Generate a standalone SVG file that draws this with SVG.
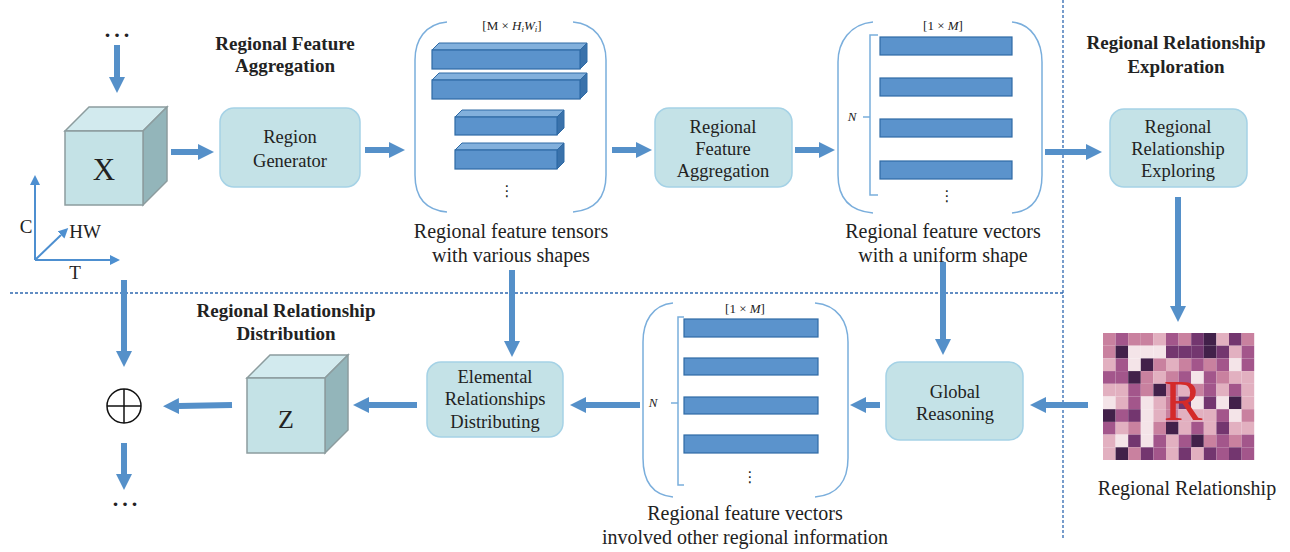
<svg xmlns="http://www.w3.org/2000/svg" width="1290" height="552" viewBox="0 0 1290 552">
<style>
text{font-family:"Liberation Serif","Times New Roman",serif;fill:#222}
.hd{font-size:19px;font-weight:bold;text-anchor:middle}
.bx{font-size:18.5px;text-anchor:middle}
.cap{font-size:20px;text-anchor:middle}
.sm{font-size:13px;text-anchor:middle}
.box{fill:#c4e2e7;stroke:#a5d2e6;stroke-width:1.5}
.ar{stroke:#5590c9;stroke-width:6;fill:none;marker-end:url(#ah)}
.ax{stroke:#4d8fd0;stroke-width:2;fill:none;marker-end:url(#ah2)}
.br{stroke:#7aaedc;stroke-width:1.5;fill:none}
.bar{fill:#5b93cc;stroke:#2f6aa5;stroke-width:1.2}
.btop{fill:#82b0dc;stroke:#2f6aa5;stroke-width:1}
.bside{fill:#3a72ab;stroke:#2f6aa5;stroke-width:1}
.cf{fill:#c4e2e6;stroke:#8c9c9e;stroke-width:1.5}
.ct{fill:#d2eaee;stroke:#8c9c9e;stroke-width:1.5}
.cs{fill:#93b5ba;stroke:#8c9c9e;stroke-width:1.5}
.dash{stroke:#2f68b0;stroke-width:1.3;stroke-dasharray:3 2;fill:none}
.c0{fill:#f4e4e8}.c1{fill:#e2b0c0}.c2{fill:#c9819f}.c3{fill:#a3568b}.c4{fill:#73366f}.c5{fill:#42214a}
</style>
<defs>
<marker id="ah" markerUnits="userSpaceOnUse" markerWidth="16" markerHeight="16" viewBox="0 0 16 16" refX="0" refY="8" orient="auto"><path d="M0,0 L16,8 L0,16 z" fill="#5590c9"/></marker>
<marker id="ah2" markerUnits="userSpaceOnUse" markerWidth="10" markerHeight="10" viewBox="0 0 10 10" refX="0" refY="5" orient="auto"><path d="M0,0 L10,5 L0,10 z" fill="#4d8fd0"/></marker>
</defs>

<g id="dividers">
<path class="dash" d="M10,293 L1063,293"/>
<path class="dash" d="M1063,0 L1063,540"/>
</g>

<g id="headers">
<text class="hd" x="285" y="50">Regional Feature</text>
<text class="hd" x="285" y="72">Aggregation</text>
<text class="hd" x="1176" y="49">Regional Relationship</text>
<text class="hd" x="1176" y="73">Exploration</text>
<text class="hd" x="286" y="317">Regional Relationship</text>
<text class="hd" x="286" y="340">Distribution</text>
</g>

<g id="dots-top"><text x="119" y="37" style="font-size:22px;font-weight:bold;text-anchor:middle;letter-spacing:4px">...</text></g>

<g id="cube-x">
<polygon class="ct" points="65,131 89,107 167,107 143,131"/>
<polygon class="cs" points="143,131 167,107 167,181 143,205"/>
<rect class="cf" x="65" y="131" width="78" height="74"/>
<text x="104" y="180" style="font-size:31px;text-anchor:middle">X</text>
</g>

<g id="axes">
<path class="ax" d="M35,260 L35,185"/>
<path class="ax" d="M35,260 L110,260"/>
<path class="ax" d="M35,260 L61,235"/>
<text x="26" y="233" style="font-size:19px;text-anchor:middle">C</text>
<text x="85" y="238" style="font-size:19px;text-anchor:middle">HW</text>
<text x="75" y="279" style="font-size:19px;text-anchor:middle">T</text>
</g>

<g id="region-generator">
<rect class="box" x="220" y="108" width="140" height="79" rx="14"/>
<text class="bx" x="290" y="143">Region</text>
<text class="bx" x="290" y="167">Generator</text>
</g>

<g id="tensors">
<path class="br" d="M447,22 C425,24 415,40 415,60 L415,175 C415,197 425,210 447,212"/>
<path class="br" d="M573,22 C595,24 606,40 606,60 L606,175 C606,197 595,210 573,212"/>
<text class="sm" x="512" y="30">[M × <tspan font-style="italic">H</tspan><tspan font-style="italic" font-size="9" dy="2">i</tspan><tspan font-style="italic" dy="-2">W</tspan><tspan font-style="italic" font-size="9" dy="2">i</tspan><tspan dy="-2">]</tspan></text>
<polygon class="btop" points="432,50 439,43 587,43 580,50"/>
<polygon class="bside" points="580,50 587,43 587,62 580,69"/>
<rect class="bar" x="432" y="50" width="148" height="19"/>
<polygon class="btop" points="432,80 439,73 587,73 580,80"/>
<polygon class="bside" points="580,80 587,73 587,92 580,99"/>
<rect class="bar" x="432" y="80" width="148" height="19"/>
<polygon class="btop" points="455,117 462,110 564,110 557,117"/>
<polygon class="bside" points="557,117 564,110 564,128 557,135"/>
<rect class="bar" x="455" y="117" width="102" height="18"/>
<polygon class="btop" points="455,150 462,143 564,143 557,150"/>
<polygon class="bside" points="557,150 564,143 564,162 557,169"/>
<rect class="bar" x="455" y="150" width="102" height="19"/>
<text x="507" y="196" style="font-family:'DejaVu Sans',sans-serif;font-size:15px;text-anchor:middle">⋮</text>
<text class="cap" x="511" y="238">Regional feature tensors</text>
<text class="cap" x="511" y="262">with various shapes</text>
</g>

<g id="feature-aggregation">
<rect class="box" x="655" y="108" width="137" height="79" rx="14"/>
<text class="bx" x="723" y="133">Regional</text>
<text class="bx" x="723" y="155">Feature</text>
<text class="bx" x="723" y="177">Aggregation</text>
</g>

<g id="vectors-top">
<path class="br" d="M873,22 C850,24 838,42 838,62 L838,175 C838,198 850,211 873,213"/>
<path class="br" d="M1012,22 C1032,24 1042,42 1042,62 L1042,175 C1042,198 1032,211 1012,213"/>
<path class="br" d="M878,35 L870,35 L870,195 L878,195 M863,117 L870,117"/>
<text class="sm" x="943" y="30">[1 × <tspan font-style="italic">M</tspan>]</text>
<text class="sm" x="852" y="121" font-style="italic">N</text>
<rect class="bar" x="880" y="37" width="132" height="18"/>
<rect class="bar" x="880" y="78" width="132" height="18"/>
<rect class="bar" x="880" y="119" width="132" height="18"/>
<rect class="bar" x="880" y="161" width="132" height="18"/>
<text x="947" y="201" style="font-family:'DejaVu Sans',sans-serif;font-size:15px;text-anchor:middle">⋮</text>
<text class="cap" x="943" y="238">Regional feature vectors</text>
<text class="cap" x="943" y="262">with a uniform shape</text>
</g>

<g id="relationship-exploring">
<rect class="box" x="1110" y="109" width="137" height="78" rx="14"/>
<text class="bx" x="1178" y="133">Regional</text>
<text class="bx" x="1178" y="155">Relationship</text>
<text class="bx" x="1178" y="177">Exploring</text>
</g>

<g id="relationship-matrix">
<g transform="translate(1103,333)">
<rect class="c2" x="0" y="0" width="12.6" height="12.7"/><rect class="c3" x="12.6" y="0" width="12.6" height="12.7"/><rect class="c2" x="25.2" y="0" width="12.6" height="12.7"/><rect class="c2" x="37.8" y="0" width="12.6" height="12.7"/><rect class="c1" x="50.4" y="0" width="12.6" height="12.7"/><rect class="c3" x="63" y="0" width="12.6" height="12.7"/><rect class="c2" x="75.6" y="0" width="12.6" height="12.7"/><rect class="c4" x="88.2" y="0" width="12.6" height="12.7"/><rect class="c5" x="100.8" y="0" width="12.6" height="12.7"/><rect class="c1" x="113.4" y="0" width="12.6" height="12.7"/><rect class="c4" x="126" y="0" width="12.6" height="12.7"/><rect class="c2" x="138.6" y="0" width="12.6" height="12.7"/>
<rect class="c2" x="0" y="12.7" width="12.6" height="12.7"/><rect class="c5" x="12.6" y="12.7" width="12.6" height="12.7"/><rect class="c0" x="25.2" y="12.7" width="12.6" height="12.7"/><rect class="c0" x="37.8" y="12.7" width="12.6" height="12.7"/><rect class="c0" x="50.4" y="12.7" width="12.6" height="12.7"/><rect class="c4" x="63" y="12.7" width="12.6" height="12.7"/><rect class="c4" x="75.6" y="12.7" width="12.6" height="12.7"/><rect class="c4" x="88.2" y="12.7" width="12.6" height="12.7"/><rect class="c5" x="100.8" y="12.7" width="12.6" height="12.7"/><rect class="c4" x="113.4" y="12.7" width="12.6" height="12.7"/><rect class="c1" x="126" y="12.7" width="12.6" height="12.7"/><rect class="c3" x="138.6" y="12.7" width="12.6" height="12.7"/>
<rect class="c1" x="0" y="25.4" width="12.6" height="12.7"/><rect class="c3" x="12.6" y="25.4" width="12.6" height="12.7"/><rect class="c0" x="25.2" y="25.4" width="12.6" height="12.7"/><rect class="c5" x="37.8" y="25.4" width="12.6" height="12.7"/><rect class="c2" x="50.4" y="25.4" width="12.6" height="12.7"/><rect class="c1" x="63" y="25.4" width="12.6" height="12.7"/><rect class="c2" x="75.6" y="25.4" width="12.6" height="12.7"/><rect class="c3" x="88.2" y="25.4" width="12.6" height="12.7"/><rect class="c2" x="100.8" y="25.4" width="12.6" height="12.7"/><rect class="c3" x="113.4" y="25.4" width="12.6" height="12.7"/><rect class="c0" x="126" y="25.4" width="12.6" height="12.7"/><rect class="c3" x="138.6" y="25.4" width="12.6" height="12.7"/>
<rect class="c3" x="0" y="38.1" width="12.6" height="12.7"/><rect class="c3" x="12.6" y="38.1" width="12.6" height="12.7"/><rect class="c5" x="25.2" y="38.1" width="12.6" height="12.7"/><rect class="c2" x="37.8" y="38.1" width="12.6" height="12.7"/><rect class="c1" x="50.4" y="38.1" width="12.6" height="12.7"/><rect class="c2" x="63" y="38.1" width="12.6" height="12.7"/><rect class="c3" x="75.6" y="38.1" width="12.6" height="12.7"/><rect class="c0" x="88.2" y="38.1" width="12.6" height="12.7"/><rect class="c3" x="100.8" y="38.1" width="12.6" height="12.7"/><rect class="c2" x="113.4" y="38.1" width="12.6" height="12.7"/><rect class="c1" x="126" y="38.1" width="12.6" height="12.7"/><rect class="c1" x="138.6" y="38.1" width="12.6" height="12.7"/>
<rect class="c1" x="0" y="50.8" width="12.6" height="12.7"/><rect class="c1" x="12.6" y="50.8" width="12.6" height="12.7"/><rect class="c3" x="25.2" y="50.8" width="12.6" height="12.7"/><rect class="c2" x="37.8" y="50.8" width="12.6" height="12.7"/><rect class="c5" x="50.4" y="50.8" width="12.6" height="12.7"/><rect class="c2" x="63" y="50.8" width="12.6" height="12.7"/><rect class="c1" x="75.6" y="50.8" width="12.6" height="12.7"/><rect class="c2" x="88.2" y="50.8" width="12.6" height="12.7"/><rect class="c3" x="100.8" y="50.8" width="12.6" height="12.7"/><rect class="c1" x="113.4" y="50.8" width="12.6" height="12.7"/><rect class="c3" x="126" y="50.8" width="12.6" height="12.7"/><rect class="c1" x="138.6" y="50.8" width="12.6" height="12.7"/>
<rect class="c0" x="0" y="63.5" width="12.6" height="12.7"/><rect class="c1" x="12.6" y="63.5" width="12.6" height="12.7"/><rect class="c3" x="25.2" y="63.5" width="12.6" height="12.7"/><rect class="c0" x="37.8" y="63.5" width="12.6" height="12.7"/><rect class="c1" x="50.4" y="63.5" width="12.6" height="12.7"/><rect class="c2" x="63" y="63.5" width="12.6" height="12.7"/><rect class="c4" x="75.6" y="63.5" width="12.6" height="12.7"/><rect class="c0" x="88.2" y="63.5" width="12.6" height="12.7"/><rect class="c4" x="100.8" y="63.5" width="12.6" height="12.7"/><rect class="c0" x="113.4" y="63.5" width="12.6" height="12.7"/><rect class="c5" x="126" y="63.5" width="12.6" height="12.7"/><rect class="c1" x="138.6" y="63.5" width="12.6" height="12.7"/>
<rect class="c5" x="0" y="76.2" width="12.6" height="12.7"/><rect class="c3" x="12.6" y="76.2" width="12.6" height="12.7"/><rect class="c4" x="25.2" y="76.2" width="12.6" height="12.7"/><rect class="c0" x="37.8" y="76.2" width="12.6" height="12.7"/><rect class="c1" x="50.4" y="76.2" width="12.6" height="12.7"/><rect class="c2" x="63" y="76.2" width="12.6" height="12.7"/><rect class="c1" x="75.6" y="76.2" width="12.6" height="12.7"/><rect class="c1" x="88.2" y="76.2" width="12.6" height="12.7"/><rect class="c1" x="100.8" y="76.2" width="12.6" height="12.7"/><rect class="c3" x="113.4" y="76.2" width="12.6" height="12.7"/><rect class="c0" x="126" y="76.2" width="12.6" height="12.7"/><rect class="c2" x="138.6" y="76.2" width="12.6" height="12.7"/>
<rect class="c3" x="0" y="88.9" width="12.6" height="12.7"/><rect class="c1" x="12.6" y="88.9" width="12.6" height="12.7"/><rect class="c2" x="25.2" y="88.9" width="12.6" height="12.7"/><rect class="c0" x="37.8" y="88.9" width="12.6" height="12.7"/><rect class="c2" x="50.4" y="88.9" width="12.6" height="12.7"/><rect class="c5" x="63" y="88.9" width="12.6" height="12.7"/><rect class="c1" x="75.6" y="88.9" width="12.6" height="12.7"/><rect class="c3" x="88.2" y="88.9" width="12.6" height="12.7"/><rect class="c1" x="100.8" y="88.9" width="12.6" height="12.7"/><rect class="c4" x="113.4" y="88.9" width="12.6" height="12.7"/><rect class="c1" x="126" y="88.9" width="12.6" height="12.7"/><rect class="c1" x="138.6" y="88.9" width="12.6" height="12.7"/>
<rect class="c1" x="0" y="101.6" width="12.6" height="12.7"/><rect class="c0" x="12.6" y="101.6" width="12.6" height="12.7"/><rect class="c4" x="25.2" y="101.6" width="12.6" height="12.7"/><rect class="c0" x="37.8" y="101.6" width="12.6" height="12.7"/><rect class="c3" x="50.4" y="101.6" width="12.6" height="12.7"/><rect class="c1" x="63" y="101.6" width="12.6" height="12.7"/><rect class="c3" x="75.6" y="101.6" width="12.6" height="12.7"/><rect class="c5" x="88.2" y="101.6" width="12.6" height="12.7"/><rect class="c2" x="100.8" y="101.6" width="12.6" height="12.7"/><rect class="c3" x="113.4" y="101.6" width="12.6" height="12.7"/><rect class="c2" x="126" y="101.6" width="12.6" height="12.7"/><rect class="c3" x="138.6" y="101.6" width="12.6" height="12.7"/>
<rect class="c1" x="0" y="114.3" width="12.6" height="12.7"/><rect class="c5" x="12.6" y="114.3" width="12.6" height="12.7"/><rect class="c2" x="25.2" y="114.3" width="12.6" height="12.7"/><rect class="c4" x="37.8" y="114.3" width="12.6" height="12.7"/><rect class="c3" x="50.4" y="114.3" width="12.6" height="12.7"/><rect class="c1" x="63" y="114.3" width="12.6" height="12.7"/><rect class="c4" x="75.6" y="114.3" width="12.6" height="12.7"/><rect class="c1" x="88.2" y="114.3" width="12.6" height="12.7"/><rect class="c4" x="100.8" y="114.3" width="12.6" height="12.7"/><rect class="c3" x="113.4" y="114.3" width="12.6" height="12.7"/><rect class="c4" x="126" y="114.3" width="12.6" height="12.7"/><rect class="c3" x="138.6" y="114.3" width="12.6" height="12.7"/>
</g>
<text x="1183" y="420" style="font-size:58px;text-anchor:middle;fill:#d42a2a">R</text>
<text class="cap" x="1187" y="495">Regional Relationship</text>
</g>

<g id="global-reasoning">
<rect class="box" x="886" y="362" width="137" height="78" rx="14"/>
<text class="bx" x="955" y="398">Global</text>
<text class="bx" x="955" y="420">Reasoning</text>
</g>

<g id="vectors-bottom">
<path class="br" d="M673,303 C652,305 643,322 643,342 L643,458 C643,480 652,495 673,497"/>
<path class="br" d="M815,303 C838,305 848,322 848,342 L848,458 C848,480 838,495 815,497"/>
<path class="br" d="M684,317 L678,317 L678,485 L684,485 M671,403 L678,403"/>
<text class="sm" x="745" y="313">[1 × <tspan font-style="italic">M</tspan>]</text>
<text class="sm" x="653" y="407" font-style="italic">N</text>
<rect class="bar" x="684" y="319" width="134" height="18"/>
<rect class="bar" x="684" y="358" width="134" height="17"/>
<rect class="bar" x="684" y="397" width="134" height="17"/>
<rect class="bar" x="684" y="435" width="134" height="18"/>
<text x="750" y="482" style="font-family:'DejaVu Sans',sans-serif;font-size:15px;text-anchor:middle">⋮</text>
<text class="cap" x="745" y="520">Regional feature vectors</text>
<text class="cap" x="745" y="544">involved other regional information</text>
</g>

<g id="elemental-distributing">
<rect class="box" x="427" y="362" width="136" height="75" rx="14"/>
<text class="bx" x="495" y="383">Elemental</text>
<text class="bx" x="495" y="405">Relationships</text>
<text class="bx" x="495" y="428">Distributing</text>
</g>

<g id="cube-z">
<polygon class="ct" points="247,378 270,355 348,355 325,378"/>
<polygon class="cs" points="325,378 348,355 348,430 325,453"/>
<rect class="cf" x="247" y="378" width="78" height="75"/>
<text x="286" y="428" style="font-size:26px;text-anchor:middle">Z</text>
</g>

<g id="sum">
<circle cx="124" cy="406" r="17" fill="none" stroke="#111" stroke-width="1.5"/>
<path d="M107,406 L141,406 M124,389 L124,423" stroke="#111" stroke-width="1.5"/>
</g>

<g id="dots-bottom"><text x="127" y="506" style="font-size:22px;font-weight:bold;text-anchor:middle;letter-spacing:4px">...</text></g>

<g id="connectors">
<path class="ar" d="M117,45 L117,77"/>
<path class="ar" d="M171,152 L198,152"/>
<path class="ar" d="M365,150 L389,150"/>
<path class="ar" d="M612,150 L636,150"/>
<path class="ar" d="M795,150 L819,150"/>
<path class="ar" d="M1045,152 L1086,152"/>
<path class="ar" d="M1178,197 L1178,306"/>
<path class="ar" d="M1088,405 L1046,405"/>
<path class="ar" d="M943,262 L943,339"/>
<path class="ar" d="M880,405 L866,405"/>
<path class="ar" d="M640,405 L586,405"/>
<path class="ar" d="M512,270 L512,341"/>
<path class="ar" d="M417,405 L369,405"/>
<path class="ar" d="M232,405 L179,406"/>
<path class="ar" d="M124,280 L124,351"/>
<path class="ar" d="M124,443 L124,474"/>
</g>
</svg>
